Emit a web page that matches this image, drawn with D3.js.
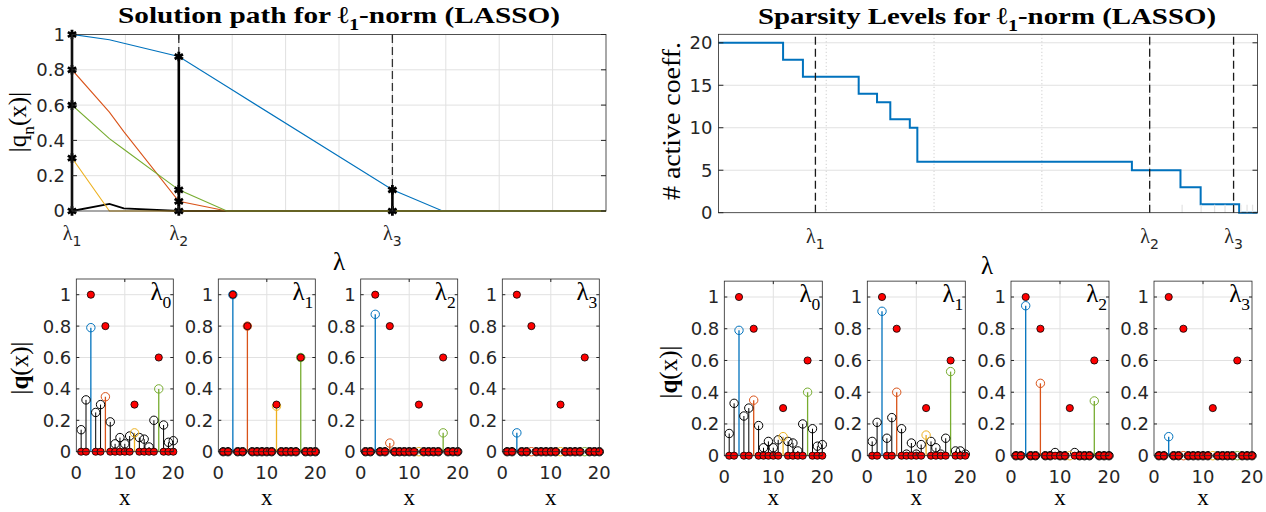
<!DOCTYPE html>
<html>
<head>
<meta charset="utf-8">
<script src="https://cdn.jsdelivr.net/npm/d3@7"></script>
<style>
  body { margin: 0; background: #fff; }
  svg { display: block; }
</style>
</head>
<body>
<svg id="fig" width="1266" height="512"></svg>
<script>

// ---------------- data ----------------

// solution path (top left): lambda grid (first entry = lambda_0 start) and |q_n| per coefficient
const pathLam    = [0, 0, 0.7, 0.97, 2, 2.9, 6, 6.94, 10];
const pathBlack  = [0, 0, 0.04, 0.015, 0, 0, 0, 0, 0];
const pathBlue   = [0.79, 1, 0.97, 0.95, 0.875, 0.705, 0.12, 0, 0];
const pathOrange = [0.35, 0.8, 0.56, 0.45, 0.055, 0, 0, 0, 0];
const pathYellow = [0.12, 0.3, 0, 0, 0, 0, 0, 0, 0];
const pathGreen  = [0.40, 0.6, 0.41, 0.35, 0.12, 0, 0, 0, 0];
const pathMarkIdx = [1, 4, 6];          // grid index of lambda_1, lambda_2, lambda_3
const lamNames = ["1", "2", "3"];

// sparsity levels (top right): step change points (log lambda) and active counts
const stepLam   = [1e-4, 3.98e-4, 6.08e-4, 2.0e-3, 2.96e-3, 3.93e-3, 5.96e-3, 7.0e-3, 0.684, 1.93, 2.97, 6.76, 10];
const stepCount = [20, 18, 16, 14, 13, 11, 10, 6, 5, 3, 1, 0, 0];
const sparseLam = [7.94e-4, 1, 6.0];

// coefficient stems (bottom)
const xIdx  = d3.range(1, 21);
const qTrue = [0, 0, 1, 0, 0, 0.8, 0, 0, 0, 0, 0, 0.3, 0, 0, 0, 0, 0.6, 0, 0, 0];
const qInit = [0.14, 0.33, 0.79, 0.25, 0.30, 0.35, 0.19, 0.05, 0.09, 0.05, 0.10, 0.12, 0.09, 0.08, 0.03, 0.20, 0.40, 0.17, 0.06, 0.07];
const lassoQ1 = [0, 0, 1, 0, 0, 0.8, 0, 0, 0, 0, 0, 0.29, 0, 0, 0, 0, 0.6, 0, 0, 0];
const lassoQ2 = [0, 0, 0.875, 0, 0, 0.055, 0, 0, 0, 0, 0, 0, 0, 0, 0, 0, 0.12, 0, 0, 0];
const lassoQ3 = [0, 0, 0.12, 0, 0, 0, 0, 0, 0, 0, 0, 0, 0, 0, 0, 0, 0, 0, 0, 0];
const sparseQ1 = [0.09, 0.21, 0.91, 0.11, 0.24, 0.40, 0.17, 0.01, 0.08, 0.01, 0.07, 0.13, 0.09, 0.05, 0.01, 0.11, 0.53, 0.03, 0.03, 0.01];
const sparseQ2 = [0, 0, 0.945, 0, 0, 0.456, 0, 0, 0.02, 0, 0, 0, 0.02, 0, 0, 0, 0.345, 0, 0, 0];
const sparseQ3 = [0, 0, 0.12, 0, 0, 0, 0, 0, 0, 0, 0, 0, 0, 0, 0, 0, 0, 0, 0, 0];

const hiIdx   = [3, 6, 12, 17];
const hiColor = ["#0072BD", "#D95319", "#EDB120", "#77AC30"];

// ---------------- helpers ----------------

const svg = d3.select("#fig");
const INK = "#262626";
const GRID = "#e1e1e1";
const SANS = "'DejaVu Sans', sans-serif";
const SERIF = "'Liberation Serif', 'DejaVu Serif', serif";
const TICK = 18;

// text with subscripts: segs = [[string, flags]], flags: "sub", "bold", "sans"
function rich(g, x, y, segs, o) {
    const t = g.append("text")
        .attr("x", x).attr("y", y)
        .attr("font-family", o.family || SERIF)
        .attr("font-size", o.size)
        .attr("font-weight", o.weight || "normal")
        .attr("text-anchor", o.anchor || "middle")
        .attr("fill", o.fill || "#000");
    if (o.rotate) t.attr("transform", `rotate(${o.rotate},${x},${y})`);
    if (o.len) t.attr("textLength", o.len).attr("lengthAdjust", "spacingAndGlyphs");
    let shift = 0;
    segs.forEach(([str, flagStr = ""]) => {
        const flags = flagStr.split(" ");
        const sp = t.append("tspan").text(str);
        const isSub = flags.includes("sub");
        const want = isSub ? o.size * 0.3 : 0;
        if (want !== shift) { sp.attr("dy", want - shift); shift = want; }
        if (isSub) sp.attr("font-size", o.size * 0.7);
        if (flags.includes("bold")) sp.attr("font-weight", "bold");
        if (flags.includes("sans")) sp.attr("font-family", SANS);
    });
    return t;
}

function frame(g, l, r, t, b) {
    g.append("rect")
        .attr("x", l).attr("y", t).attr("width", r - l).attr("height", b - t)
        .attr("fill", "none").attr("stroke", INK).attr("stroke-width", 0.8);
}

// ---------------- top left: solution path ----------------

const tl = {l: 72, r: 606, t: 34.5, b: 211};
const xTL = d3.scaleLinear().domain([0, 10]).range([tl.l, tl.r]);
const yTL = d3.scaleLinear().domain([0, 1]).range([tl.b, tl.t]);
const gTL = svg.append("g");

gTL.append("g").selectAll("line").data(d3.range(1, 10)).join("line")
    .attr("x1", d => xTL(d)).attr("x2", d => xTL(d))
    .attr("y1", tl.t).attr("y2", tl.b)
    .attr("stroke", GRID);
const tlYTicks = [0, 0.2, 0.4, 0.6, 0.8, 1];
gTL.append("g").selectAll("line").data(tlYTicks.slice(1, -1)).join("line")
    .attr("x1", tl.l).attr("x2", tl.r)
    .attr("y1", d => yTL(d)).attr("y2", d => yTL(d))
    .attr("stroke", GRID);

const lamX = pathMarkIdx.map(i => pathLam[i]);

// dashed lambda markers
gTL.append("g").selectAll("line").data(lamX).join("line")
    .attr("x1", d => xTL(d)).attr("x2", d => xTL(d))
    .attr("y1", yTL(0)).attr("y2", yTL(1))
    .attr("stroke", "#333").attr("stroke-width", 1.3)
    .attr("stroke-dasharray", "8,4");

const pathLine = d3.line().x((d, i) => xTL(pathLam[i])).y(d => yTL(d));
const pathSeries = [
    [pathBlack, "#000", 1.8],
    [pathBlue, hiColor[0], 1.1],
    [pathOrange, hiColor[1], 1.1],
    [pathYellow, hiColor[2], 1.1],
    [pathGreen, hiColor[3], 1.1]
];
gTL.append("g").selectAll("path").data(pathSeries).join("path")
    .attr("d", d => pathLine(d[0]))
    .attr("fill", "none")
    .attr("stroke", d => d[1])
    .attr("stroke-width", d => d[2]);

// vertical black bars with asterisks at lambda_1..3
const marks = pathMarkIdx.map(i => ({
    x: pathLam[i],
    vals: Array.from(new Set(pathSeries.map(s => s[0][i])))
}));
gTL.append("g").selectAll("line").data(marks).join("line")
    .attr("x1", d => xTL(d.x)).attr("x2", d => xTL(d.x))
    .attr("y1", yTL(0)).attr("y2", d => yTL(d3.max(d.vals)))
    .attr("stroke", "#000").attr("stroke-width", 2.6);
const star = d3.symbol().type(d3.symbolAsterisk).size(64);
gTL.append("g").selectAll("path")
    .data(marks.flatMap(m => m.vals.map(v => [m.x, v])))
    .join("path")
    .attr("d", star)
    .attr("transform", d => `translate(${xTL(d[0])},${yTL(d[1])})`)
    .attr("fill", "none").attr("stroke", "#000").attr("stroke-width", 2.8);

frame(gTL, tl.l, tl.r, tl.t, tl.b);

// ticks
gTL.append("g").selectAll("path").data(tlYTicks).join("path")
    .attr("d", d => `M${tl.l},${yTL(d)}h5M${tl.r},${yTL(d)}h-5`)
    .attr("stroke", INK);
gTL.append("g").selectAll("path").data(lamX).join("path")
    .attr("d", d => `M${xTL(d)},${tl.b}v-5M${xTL(d)},${tl.t}v5`)
    .attr("stroke", INK);

gTL.append("g").selectAll("text").data(tlYTicks).join("text")
    .attr("x", tl.l - 7).attr("y", d => yTL(d)).attr("dy", "0.36em")
    .attr("text-anchor", "end")
    .attr("font-family", SANS).attr("font-size", TICK).attr("fill", INK)
    .text(d => String(+d.toFixed(1)));
lamX.forEach((x, i) =>
    rich(gTL, xTL(x), 240, [["λ"], [lamNames[i], "sub sans"]], {size: 20, fill: INK}));

rich(gTL, 339, 23, [["Solution path for ℓ"], ["1", "sub"], ["-norm (LASSO)"]],
    {size: 24, weight: "bold", len: 442});
rich(gTL, 339, 270, [["λ"]], {size: 25});
rich(gTL, 26, 122, [["|q"], ["n", "sub"], ["(x)|"]], {size: 25, rotate: -90});

// ---------------- top right: sparsity levels ----------------

const tr = {l: 718.4, r: 1257.5, t: 34.3, b: 212.7};
const xTR = d3.scaleLog().domain([1e-4, 10]).range([tr.l, tr.r]);
const yTR = d3.scaleLinear().domain([0, 21]).range([tr.b, tr.t]);
const gTR = svg.append("g");

const trYTicks = [0, 5, 10, 15, 20];
gTR.append("g").selectAll("line").data(trYTicks.slice(1)).join("line")
    .attr("x1", tr.l).attr("x2", tr.r)
    .attr("y1", d => yTR(d)).attr("y2", d => yTR(d))
    .attr("stroke", GRID);
gTR.append("g").selectAll("line").data([1e-3, 1e-2, 1e-1, 1]).join("line")
    .attr("x1", d => xTR(d)).attr("x2", d => xTR(d))
    .attr("y1", tr.t).attr("y2", tr.b)
    .attr("stroke", "#c4c4c4").attr("stroke-dasharray", "1,2.5");

const stepLine = d3.line().curve(d3.curveStepAfter)
    .x((d, i) => xTR(stepLam[i])).y(d => yTR(d));
gTR.append("path")
    .attr("d", stepLine(stepCount))
    .attr("fill", "none").attr("stroke", "#0072BD").attr("stroke-width", 2);

// minor log ticks in the last decade
gTR.append("g").selectAll("line").data(d3.range(2, 10)).join("line")
    .attr("x1", d => xTR(d)).attr("x2", d => xTR(d))
    .attr("y1", tr.b).attr("y2", tr.b - 8)
    .attr("stroke", "#e4e4e4").attr("stroke-width", 1.3);

gTR.append("g").selectAll("line").data(sparseLam).join("line")
    .attr("x1", d => xTR(d)).attr("x2", d => xTR(d))
    .attr("y1", tr.b).attr("y2", tr.t)
    .attr("stroke", "#1a1a1a").attr("stroke-width", 1.3)
    .attr("stroke-dasharray", "8,4");

frame(gTR, tr.l, tr.r, tr.t, tr.b);
gTR.append("g").selectAll("path").data(trYTicks).join("path")
    .attr("d", d => `M${tr.l},${yTR(d)}h5M${tr.r},${yTR(d)}h-5`)
    .attr("stroke", INK);

gTR.append("g").selectAll("text").data(trYTicks).join("text")
    .attr("x", tr.l - 6).attr("y", d => yTR(d)).attr("dy", "0.36em")
    .attr("text-anchor", "end")
    .attr("font-family", SANS).attr("font-size", TICK).attr("fill", INK)
    .text(d => d);
sparseLam.forEach((x, i) =>
    rich(gTR, xTR(x), 243, [["λ"], [lamNames[i], "sub sans"]], {size: 20, fill: INK}));

rich(gTR, 987, 24, [["Sparsity Levels for ℓ"], ["1", "sub"], ["-norm (LASSO)"]],
    {size: 24, weight: "bold", len: 458});
rich(gTR, 987, 274, [["λ"]], {size: 25});
rich(gTR, 680, 121, [["# active coeff."]], {size: 25, rotate: -90, len: 158});

// ---------------- bottom: stem panels ----------------

const qYTicks = [0, 0.2, 0.4, 0.6, 0.8, 1];

function stemPanel(left, width, y0, perUnit, est, tag) {
    const x = d3.scaleLinear().domain([0, 20]).range([left, left + width]);
    const y = d3.scaleLinear().domain([0, 1]).range([y0, y0 - perUnit]);
    const top = y(1.1), right = left + width;
    const g = svg.append("g");

    g.append("g").selectAll("line").data(qYTicks.slice(1)).join("line")
        .attr("x1", left).attr("x2", right)
        .attr("y1", d => y(d)).attr("y2", d => y(d))
        .attr("stroke", GRID);
    g.append("line")
        .attr("x1", x(10)).attr("x2", x(10)).attr("y1", top).attr("y2", y0)
        .attr("stroke", GRID);

    const pts = xIdx.map((xi, i) => {
        const h = hiIdx.indexOf(xi);
        return {x: xi, v: est[i], c: h < 0 ? "#000" : hiColor[h], hi: h >= 0};
    }).sort((a, b) => a.hi - b.hi);

    g.append("g").selectAll("line").data(pts.filter(d => d.v > 0)).join("line")
        .attr("x1", d => x(d.x)).attr("x2", d => x(d.x))
        .attr("y1", y0).attr("y2", d => y(d.v))
        .attr("stroke", d => d.c).attr("stroke-width", d => d.hi ? 1.3 : 1);
    g.append("g").selectAll("circle").data(pts).join("circle")
        .attr("cx", d => x(d.x)).attr("cy", d => y(d.v)).attr("r", 4.2)
        .attr("fill", "none").attr("stroke", d => d.c).attr("stroke-width", 1);

    g.append("g").selectAll("circle").data(xIdx).join("circle")
        .attr("cx", d => x(d)).attr("cy", (d, i) => y(qTrue[i])).attr("r", 3.6)
        .attr("fill", "#ff0000").attr("stroke", "#000").attr("stroke-width", 0.8);

    frame(g, left, right, top, y0);
    g.append("g").selectAll("path").data(qYTicks).join("path")
        .attr("d", d => `M${left},${y(d)}h3M${right},${y(d)}h-3`)
        .attr("stroke", INK);
    g.append("g").selectAll("path").data([10]).join("path")
        .attr("d", d => `M${x(d)},${y0}v-3M${x(d)},${top}v3`)
        .attr("stroke", INK);

    g.append("g").selectAll("text").data(qYTicks).join("text")
        .attr("x", left - 5).attr("y", d => y(d)).attr("dy", "0.36em")
        .attr("text-anchor", "end")
        .attr("font-family", SANS).attr("font-size", TICK).attr("fill", INK)
        .text(d => String(+d.toFixed(1)));
    g.append("g").selectAll("text").data([0, 10, 20]).join("text")
        .attr("x", d => x(d)).attr("y", y0 + 27)
        .attr("text-anchor", "middle")
        .attr("font-family", SANS).attr("font-size", TICK).attr("fill", INK)
        .text(d => d);

    rich(g, left + width / 2, Math.min(y0 + 53, 505), [["x"]], {size: 23});
    rich(g, right - 2, top + 21, [["λ"], [tag, "sub"]], {size: 25, anchor: "end"});
}

const lassoSets = [qInit, lassoQ1, lassoQ2, lassoQ3];
const sparseSets = [qInit, sparseQ1, sparseQ2, sparseQ3];
const leftPanelX = [76.3, 218.3, 360.7, 502.3];
const rightPanelX = [724.3, 867.3, 1011, 1154];

lassoSets.forEach((q, i) => stemPanel(leftPanelX[i], 97, 451.7, 157, q, String(i)));
sparseSets.forEach((q, i) => stemPanel(rightPanelX[i], 98, 455.7, 158.7, q, String(i)));

rich(svg, 28, 368, [["|"], ["q", "bold"], ["(x)|"]], {size: 25, rotate: -90});
rich(svg, 677, 372, [["|"], ["q", "bold"], ["(x)|"]], {size: 25, rotate: -90});

</script>
</body>
</html>
